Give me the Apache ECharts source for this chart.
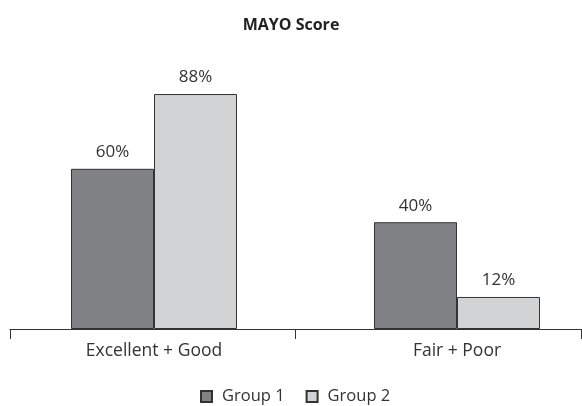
<!DOCTYPE html>
<html><head><meta charset="utf-8">
<script src="https://cdn.jsdelivr.net/npm/echarts@6/dist/echarts.min.js"></script>
<style>html,body{margin:0;padding:0;background:#fff}#c{width:582px;height:406px}</style>
</head><body><div id="c"></div>
<script>
const categories = ['Excellent + Good', 'Fair + Poor'];
const group1 = [60, 40];
const group2 = [88, 12];
const seriesNames = ['Group 1', 'Group 2'];
const font = '"Open Sans", "Noto Sans", sans-serif';
const chart = echarts.init(document.getElementById('c'));
const label = {show: true, position: 'top', distance: 8, formatter: '{c}%', color: '#333', fontSize: 17, fontFamily: font};
chart.setOption({
  animation: false,
  title: {text: 'MAYO Score', left: 'center', top: 12, textStyle: {fontSize: 16, fontWeight: 'bold', color: '#222', fontFamily: font}},
  legend: {top: 388, left: 200, padding: 0, itemWidth: 11, itemHeight: 11, itemGap: 21, icon: 'rect',
    textStyle: {fontSize: 16.5, color: '#333', fontFamily: font, padding: [0, 0, 0, 5]}, data: seriesNames},
  grid: [
    {left: 10, right: 1, top: 62, bottom: 77, containLabel: false},
    {left: 154, right: 125, top: 62, bottom: 77, containLabel: false}
  ],
  xAxis: [
    {type: 'category', gridIndex: 0, data: categories,
      axisLine: {lineStyle: {color: '#333', width: 1}},
      axisTick: {show: true, length: 10, lineStyle: {color: '#333'}},
      axisLabel: {show: false}},
    {type: 'category', gridIndex: 1, data: categories, boundaryGap: false,
      axisLine: {show: false}, axisTick: {show: false},
      axisLabel: {fontSize: 17.5, color: '#333', fontFamily: font, margin: 13}}
  ],
  yAxis: [
    {type: 'value', gridIndex: 0, min: 0, max: 100, show: false, splitLine: {show: false}},
    {type: 'value', gridIndex: 1, min: 0, max: 100, show: false, splitLine: {show: false}}
  ],
  series: [
    {name: seriesNames[0], type: 'bar', xAxisIndex: 1, yAxisIndex: 1, data: group1, barWidth: 83, barGap: '0%',
      itemStyle: {color: '#808285', borderColor: '#333', borderWidth: 1}, label: label},
    {name: seriesNames[1], type: 'bar', xAxisIndex: 1, yAxisIndex: 1, data: group2, barWidth: 83, barGap: '0%',
      itemStyle: {color: '#d1d3d4', borderColor: '#333', borderWidth: 1}, label: label}
  ]
});
</script></body></html>
